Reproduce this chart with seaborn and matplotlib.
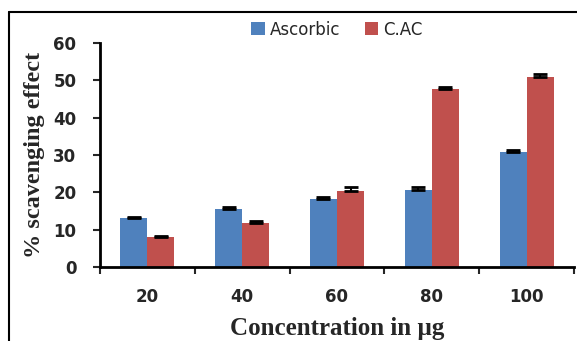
import numpy as np
import pandas as pd
import matplotlib
matplotlib.use("Agg")
import matplotlib.pyplot as plt
import seaborn as sns
from matplotlib.lines import Line2D

categories = ["20", "40", "60", "80", "100"]
ascorbic = [13.2, 15.6, 18.2, 20.6, 30.8]
cac = [8.0, 11.8, 20.4, 47.7, 50.9]
ascorbic_err = [0.2, 0.6, 0.5, 0.9, 0.5]
cac_err = [0.4, 0.6, 1.0, 0.6, 0.7]
series = ["Ascorbic", "C.AC"]
colors = ["#4F81BD", "#C0504D"]

df = pd.DataFrame({
    "conc": categories * 2,
    "value": ascorbic + cac,
    "series": [series[0]] * 5 + [series[1]] * 5,
})

sns.set_style("white")
fig = plt.figure(figsize=(5.77, 3.41), dpi=100)
ax = fig.add_axes([100 / 577, 1 - 267 / 341, 474 / 577, 224 / 341])

sns.barplot(data=df, x="conc", y="value", hue="series", palette=colors,
            width=0.57, errorbar=None, ax=ax, saturation=1, legend=True,
            linewidth=0, edgecolor="none")

# one-sided error bars drawn at the bar positions from the library
errs = {series[0]: ascorbic_err, series[1]: cac_err}
vals = {series[0]: ascorbic, series[1]: cac}
for cont, s in zip(ax.containers, series):
    xs = [p.get_x() + p.get_width() / 2 for p in cont.patches]
    e = np.array(errs[s])
    ax.errorbar(xs, vals[s], yerr=[np.zeros_like(e), e], fmt="none",
                ecolor="black", elinewidth=1.5, capsize=5, capthick=2)

ax.set_ylim(0, 60)
ax.set_xlim(-0.5, 4.5)
ax.set_yticks(range(0, 61, 10))
ax.tick_params(axis="y", direction="out", length=5, width=1.5, pad=12,
               labelsize=12, left=True)
ax.set_xticks(range(5))
ax.set_xticklabels(categories)
ax.tick_params(axis="x", which="major", length=0, pad=15, labelsize=12)
ax.set_xticks(np.arange(-0.5, 4.6, 1), minor=True)
ax.tick_params(axis="x", which="minor", direction="out", length=5, width=1.5,
               bottom=True)
for lab in ax.get_xticklabels() + ax.get_yticklabels():
    lab.set_fontweight("bold")
    lab.set_family("DejaVu Sans")

for side in ["top", "right"]:
    ax.spines[side].set_visible(False)
for side in ["left", "bottom"]:
    ax.spines[side].set_linewidth(2)
    ax.spines[side].set_color("black")

ax.set_xlabel("Concentration in µg", fontsize=18, fontweight="bold",
              family="Liberation Serif", labelpad=8)
ax.set_ylabel("% scavenging effect", fontsize=17.5, fontweight="bold",
              family="Liberation Serif", labelpad=6)

leg = ax.legend(loc="upper center", bbox_to_anchor=(0.5, 1.13), ncol=2,
                frameon=False, fontsize=12, handlelength=0.8, handleheight=0.8,
                columnspacing=1.5, handletextpad=0.3, borderaxespad=0)

# figure border frame
fig.add_artist(Line2D([9 / 577, 9 / 577], [0, 1 - 12 / 341], color="black",
                      lw=1.5, transform=fig.transFigure))
fig.add_artist(Line2D([9 / 577, 1], [1 - 12 / 341, 1 - 12 / 341], color="black",
                      lw=1.5, transform=fig.transFigure))

fig.savefig("out.png", dpi=100)
